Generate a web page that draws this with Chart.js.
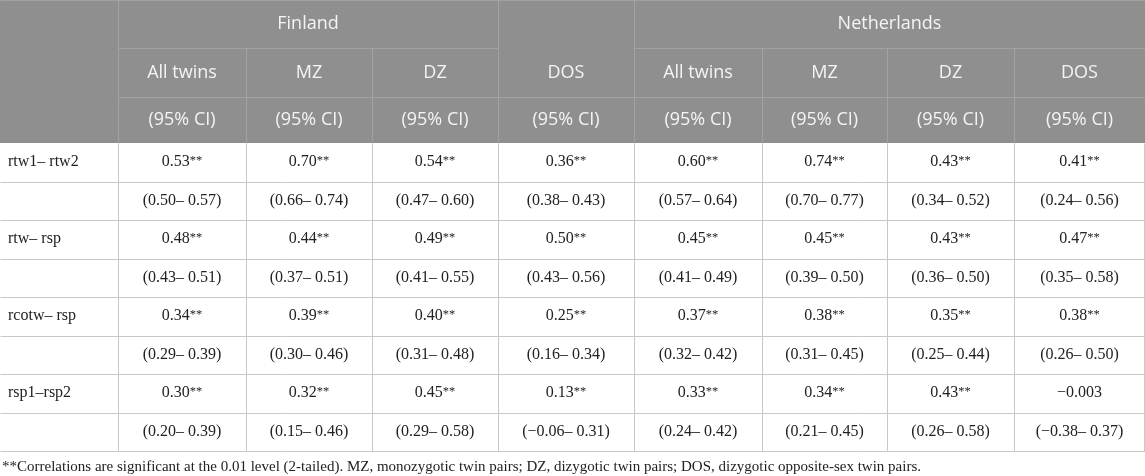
<!DOCTYPE html>
<html>
<head>
<meta charset="utf-8">
<script src="https://cdn.jsdelivr.net/npm/chart.js@4.4.1/dist/chart.umd.min.js"></script>
<style>
  html, body { margin: 0; padding: 0; background: #fff; }
  #wrap { width: 1145px; height: 476px; }
</style>
</head>
<body>
<div id="wrap"><canvas id="twinTable" width="1145" height="476"></canvas></div>
<script>
// table content
var countries = ['Finland', 'Netherlands'];
var groups = ['All twins', 'MZ', 'DZ', 'DOS'];
var ciLabel = '(95% CI)';
var measures = ['rtw1– rtw2', 'rtw– rsp', 'rcotw– rsp', 'rsp1–rsp2'];

// rows = measures, columns = groups
var finlandR    = [[0.53, 0.70, 0.54, 0.36], [0.48, 0.44, 0.49, 0.50], [0.34, 0.39, 0.40, 0.25], [0.30, 0.32, 0.45, 0.13]];
var finlandLow  = [[0.50, 0.66, 0.47, 0.38], [0.43, 0.37, 0.41, 0.43], [0.29, 0.30, 0.31, 0.16], [0.20, 0.15, 0.29, -0.06]];
var finlandHigh = [[0.57, 0.74, 0.60, 0.43], [0.51, 0.51, 0.55, 0.56], [0.39, 0.46, 0.48, 0.34], [0.39, 0.46, 0.58, 0.31]];
var netherlandsR    = [[0.60, 0.74, 0.43, 0.41], [0.45, 0.45, 0.43, 0.47], [0.37, 0.38, 0.35, 0.38], [0.33, 0.34, 0.43, -0.003]];
var netherlandsLow  = [[0.57, 0.70, 0.34, 0.24], [0.41, 0.39, 0.36, 0.35], [0.32, 0.31, 0.25, 0.26], [0.24, 0.21, 0.26, -0.38]];
var netherlandsHigh = [[0.64, 0.77, 0.52, 0.56], [0.49, 0.50, 0.50, 0.58], [0.42, 0.45, 0.44, 0.50], [0.42, 0.45, 0.58, 0.37]];
var finlandSig     = [[1, 1, 1, 1], [1, 1, 1, 1], [1, 1, 1, 1], [1, 1, 1, 1]];
var netherlandsSig = [[1, 1, 1, 1], [1, 1, 1, 1], [1, 1, 1, 1], [1, 1, 1, 0]];

var footnote = '**Correlations are significant at the 0.01 level (2-tailed). MZ, monozygotic twin pairs; DZ, dizygotic twin pairs; DOS, dizygotic opposite-sex twin pairs.';

// layout (in axis units)
var colWidths = [118, 128, 126, 126, 136, 128, 125, 127, 131];
var headRows = [48, 49, 46];
var bodyRow = 38.5;
var footRow = 25;

var colEdges = [0];
colWidths.forEach(function(w) { colEdges.push(colEdges[colEdges.length - 1] + w); });
var rowEdges = [0];
headRows.forEach(function(h) { rowEdges.push(rowEdges[rowEdges.length - 1] + h); });
for (var i = 0; i < measures.length * 2; i++) rowEdges.push(rowEdges[rowEdges.length - 1] + bodyRow);
var tableW = colEdges[colEdges.length - 1];
var tableBottom = rowEdges[rowEdges.length - 1];
var totalH = tableBottom + footRow;

function fmt(v) {
  var a = Math.abs(v);
  var s = a.toFixed(a > 0 && a < 0.01 ? 3 : 2);
  return (v < 0 ? '−' : '') + s;
}
function midCol(a, b) { return (colEdges[a] + colEdges[b]) / 2; }
function midRow(r) { return (rowEdges[r] + rowEdges[r + 1]) / 2; }

// header cells
var headerCells = [];
headerCells.push({ x: midCol(1, 4), y: midRow(0), text: countries[0] });
headerCells.push({ x: midCol(5, 9), y: midRow(0), text: countries[1] });
for (var c = 0; c < 8; c++) {
  headerCells.push({ x: midCol(c + 1, c + 2), y: midRow(1), text: groups[c % 4] });
  headerCells.push({ x: midCol(c + 1, c + 2), y: midRow(2), text: ciLabel });
}

// body cells
var bodyCells = [];
var labelCells = [];
measures.forEach(function(m, mi) {
  var rTop = 3 + mi * 2, rBot = rTop + 1;
  labelCells.push({ x: 8, y: midRow(rTop), text: m });
  for (var g = 0; g < 4; g++) {
    bodyCells.push({ x: midCol(g + 1, g + 2), y: midRow(rTop), text: fmt(finlandR[mi][g]), sup: finlandSig[mi][g] ? '**' : '' });
    bodyCells.push({ x: midCol(g + 1, g + 2), y: midRow(rBot), text: '(' + fmt(finlandLow[mi][g]) + '– ' + fmt(finlandHigh[mi][g]) + ')' });
    bodyCells.push({ x: midCol(g + 5, g + 6), y: midRow(rTop), text: fmt(netherlandsR[mi][g]), sup: netherlandsSig[mi][g] ? '**' : '' });
    bodyCells.push({ x: midCol(g + 5, g + 6), y: midRow(rBot), text: '(' + fmt(netherlandsLow[mi][g]) + '– ' + fmt(netherlandsHigh[mi][g]) + ')' });
  }
});
var footCells = [{ x: 2, y: tableBottom + footRow / 2 + 4, text: footnote }];

var tableGrid = {
  id: 'tableGrid',
  beforeDatasetsDraw: function(chart) {
    var ctx = chart.ctx, xs = chart.scales.x, ys = chart.scales.y;
    var px = function(v) { return Math.round(xs.getPixelForValue(v)) + 0.5; };
    var py = function(v) { return Math.round(ys.getPixelForValue(v)) + 0.5; };
    ctx.save();
    // header background
    ctx.fillStyle = '#8f8f8f';
    ctx.fillRect(xs.getPixelForValue(0), ys.getPixelForValue(0), xs.getPixelForValue(tableW) - xs.getPixelForValue(0), ys.getPixelForValue(rowEdges[3]) - ys.getPixelForValue(0));
    ctx.lineWidth = 1;
    function line(x1, y1, x2, y2) {
      ctx.beginPath(); ctx.moveTo(px(x1), py(y1)); ctx.lineTo(px(x2), py(y2)); ctx.stroke();
    }
    // header grid
    ctx.strokeStyle = '#a2a2a2';
    line(colEdges[1], rowEdges[1], colEdges[4], rowEdges[1]);
    line(colEdges[5], rowEdges[1], tableW, rowEdges[1]);
    line(colEdges[1], rowEdges[2], tableW, rowEdges[2]);
    [1, 4, 5].forEach(function(c) { line(colEdges[c], 0, colEdges[c], rowEdges[3]); });
    [2, 3, 6, 7, 8].forEach(function(c) { line(colEdges[c], rowEdges[1], colEdges[c], rowEdges[3]); });
    line(0, 0, tableW, 0);
    // body grid
    ctx.strokeStyle = '#c8c8c8';
    for (var r = 4; r < rowEdges.length; r++) line(0, rowEdges[r], tableW, rowEdges[r]);
    for (var k = 1; k < colEdges.length - 1; k++) line(colEdges[k], rowEdges[3], colEdges[k], tableBottom);
    ctx.beginPath();
    ctx.moveTo(Math.round(xs.getPixelForValue(tableW)) - 0.5, py(rowEdges[3]));
    ctx.lineTo(Math.round(xs.getPixelForValue(tableW)) - 0.5, py(tableBottom));
    ctx.stroke();
    ctx.restore();
  },
  afterDatasetsDraw: function(chart) {
    var ctx = chart.ctx;
    ctx.save();
    chart.data.datasets.forEach(function(ds, di) {
      var meta = chart.getDatasetMeta(di);
      ctx.fillStyle = ds.textColor;
      ctx.textBaseline = 'middle';
      meta.data.forEach(function(el, i) {
        var cell = ds.data[i];
        ctx.font = ds.textFont;
        if (!cell.sup) {
          ctx.textAlign = ds.textAlign;
          ctx.fillText(cell.text, el.x, el.y);
          return;
        }
        // number plus small raised significance marks, centred together
        var w1 = ctx.measureText(cell.text).width;
        ctx.font = ds.supFont;
        var w2 = ctx.measureText(cell.sup).width;
        var x0 = el.x - (w1 + w2) / 2;
        ctx.textAlign = 'left';
        ctx.font = ds.textFont;
        ctx.fillText(cell.text, x0, el.y);
        ctx.font = ds.supFont;
        ctx.fillText(cell.sup, x0 + w1, el.y - 2);
      });
    });
    ctx.restore();
  }
};

new Chart(document.getElementById('twinTable').getContext('2d'), {
  type: 'scatter',
  data: {
    datasets: [
      { label: 'header', data: headerCells, pointRadius: 0, textFont: '18px "Open Sans"', textColor: '#f4f4f4', textAlign: 'center' },
      { label: 'labels', data: labelCells, pointRadius: 0, textFont: '16px "Liberation Serif"', textColor: '#222', textAlign: 'left' },
      { label: 'values', data: bodyCells, pointRadius: 0, textFont: '16px "Liberation Serif"', supFont: '12.5px "Liberation Serif"', textColor: '#222', textAlign: 'center' },
      { label: 'footnote', data: footCells, pointRadius: 0, textFont: '15px "Liberation Serif"', textColor: '#222', textAlign: 'left' }
    ]
  },
  options: {
    responsive: false,
    animation: false,
    layout: { padding: 0 },
    plugins: {
      legend: { display: false },
      tooltip: { enabled: false }
    },
    scales: {
      x: { type: 'linear', min: 0, max: tableW, display: false },
      y: { type: 'linear', min: 0, max: totalH, reverse: true, display: false }
    }
  },
  plugins: [tableGrid]
});
</script>
</body>
</html>
